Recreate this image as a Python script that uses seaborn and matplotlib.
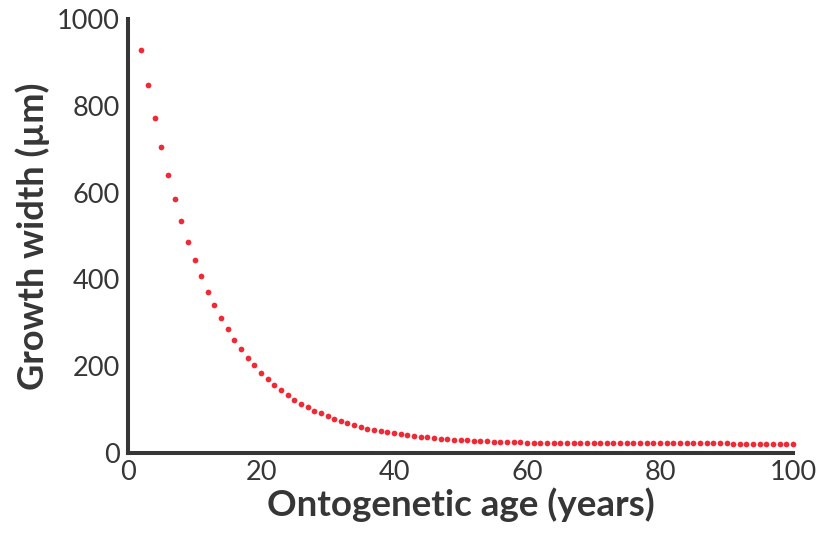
import numpy as np
import pandas as pd

import matplotlib
matplotlib.use("Agg")
import matplotlib.pyplot as plt
import seaborn as sns

# =====================================================
# DATA
# =====================================================

ages = list(range(2, 101))

growth_width = [
    929, 847, 772, 704, 641, 585, 534, 487, 445,          # 2-10
    407, 372, 340, 311, 285, 261, 240, 220, 202, 185,     # 11-20
    170, 156, 144, 133, 122, 113, 105, 97, 91, 85,        # 21-30
    79, 73, 69, 65, 60, 56, 53, 50, 48, 46,               # 31-40
    43, 41, 40, 37, 36, 35, 33, 33, 31, 30,               # 41-50
    29, 28, 27, 27, 26, 26, 25, 25, 25, 24,               # 51-60
    24, 24, 24, 24, 24, 23, 23, 23, 23, 23,               # 61-70
    23, 23, 23, 23, 23, 23, 22, 22, 22, 22,               # 71-80
    22, 22, 22, 22, 22, 22, 22, 22, 22, 22,               # 81-90
    21, 21, 21, 21, 21, 21, 21, 21, 21, 21,               # 91-100
]

x_ticks = [0, 20, 40, 60, 80, 100]
y_ticks = [0, 200, 400, 600, 800, 1000]

df = pd.DataFrame({"age": ages, "width": growth_width})

# =====================================================
# SETTINGS
# =====================================================

sns.set_theme(style="white")
plt.rcParams["font.family"] = ["Lato", "DejaVu Sans"]

ink = "#363636"
dot_red = "#ee2a36"

fig = plt.figure(figsize=(8.27, 5.34), dpi=100)
ax = fig.add_axes([0.1548, 0.1517, 0.8041, 0.8127])

sns.scatterplot(
    data=df,
    x="age",
    y="width",
    color=dot_red,
    s=17,
    linewidth=0,
    clip_on=False,
    ax=ax
)

ax.set_xlim(0, 100)
ax.set_ylim(0, 1000)
ax.set_xticks(x_ticks)
ax.set_yticks(y_ticks)

for side in ["top", "right"]:
    ax.spines[side].set_visible(False)
for side in ["left", "bottom"]:
    ax.spines[side].set_color(ink)
    ax.spines[side].set_linewidth(2.9)
    ax.spines[side].set_capstyle("projecting")

ax.tick_params(axis="x", direction="in", length=8, width=2.7,
               color=ink, labelcolor=ink, labelsize=19.5, pad=5)
ax.tick_params(axis="y", direction="in", length=12, width=2.7,
               color=ink, labelcolor=ink, labelsize=19.5, pad=6)

ax.set_xlabel("Ontogenetic age (years)", fontsize=26.5,
              fontweight="bold", color=ink, labelpad=2)
ax.set_ylabel("Growth width (µm)", fontsize=26,
              fontweight="bold", color=ink, labelpad=5)

fig.savefig("out.png", dpi=100)
